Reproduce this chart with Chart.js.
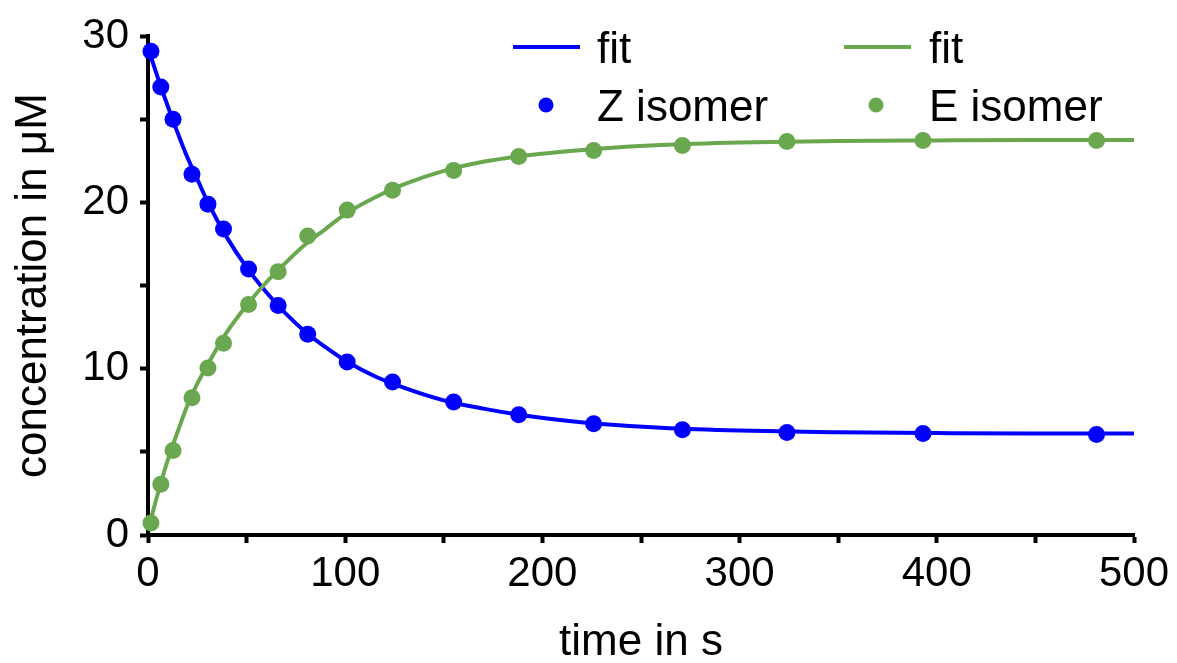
<!DOCTYPE html>
<html>
<head>
<meta charset="utf-8">
<script src="https://cdn.jsdelivr.net/npm/chart.js@4.4.1/dist/chart.umd.min.js"></script>
<style>
  body { margin: 0; background: #fff; }
  #wrap { width: 1177px; height: 663px; }
</style>
</head>
<body>
<div id="wrap"><canvas id="chart-kinetics" width="1177" height="663"></canvas></div>
<script>
// measured points (time in s, concentration in uM)
let timePts = [1.5, 6.5, 12.7, 22.3, 30.4, 38.3, 51, 66, 81, 101, 124, 155, 188, 226, 271, 324, 393, 481];
let zIsomer = [29.1, 26.95, 25.0, 21.7, 19.9, 18.4, 16.0, 13.8, 12.07, 10.4, 9.2, 8.0, 7.23, 6.69, 6.33, 6.16, 6.1, 6.04];
let eIsomer = [0.72, 3.05, 5.08, 8.25, 10.04, 11.53, 13.86, 15.84, 17.99, 19.54, 20.74, 21.93, 22.77, 23.13, 23.43, 23.67, 23.73, 23.73];

// fit curves
let fitTime = [0, 5, 10, 15, 20, 25, 30, 40, 50, 60, 70, 80, 90, 100, 115, 130, 150, 170, 190, 210, 230, 260, 300, 350, 400, 450, 500];
let zFit = [29.3, 27.5, 25.8, 24.2, 22.7, 21.4, 20.1, 17.9, 16.1, 14.6, 13.3, 12.2, 11.3, 10.5, 9.55, 8.85, 8.1, 7.6, 7.2, 6.9, 6.68, 6.45, 6.28, 6.18, 6.13, 6.1, 6.1];
let eFit = [0.3, 2.5, 4.5, 6.2, 7.8, 9.1, 10.2, 12.2, 13.8, 15.2, 16.4, 17.5, 18.4, 19.3, 20.3, 21.1, 21.9, 22.45, 22.8, 23.05, 23.25, 23.45, 23.6, 23.7, 23.73, 23.75, 23.75];

let xTicks = [0, 100, 200, 300, 400, 500];
let yTicks = [0, 10, 20, 30];

const BLUE = "#0000ff";
const GREEN = "#6aa84f";
const FONT = "'Liberation Sans', Arial, sans-serif";

function pairs(xs, ys) {
  return xs.map(function(x, i) { return {x: x, y: ys[i]}; });
}

// two-column legend like the original figure
const legendPlugin = {
  id: "figLegend",
  afterDraw: function(chart) {
    const ctx = chart.ctx;
    ctx.save();
    ctx.font = "44px " + FONT;
    ctx.fillStyle = "#000";
    ctx.textAlign = "left";
    ctx.textBaseline = "alphabetic";

    const cols = [
      {lineX: 513, textX: 597, dotX: 546, color: BLUE, name: "Z isomer"},
      {lineX: 844, textX: 929, dotX: 876, color: GREEN, name: "E isomer"}
    ];
    cols.forEach(function(c) {
      ctx.strokeStyle = c.color;
      ctx.lineWidth = 4;
      ctx.beginPath();
      ctx.moveTo(c.lineX, 47);
      ctx.lineTo(c.lineX + 67, 47);
      ctx.stroke();
      ctx.fillText("fit", c.textX, 63);

      ctx.fillStyle = c.color;
      ctx.beginPath();
      ctx.arc(c.dotX, 105, 7.5, 0, Math.PI * 2);
      ctx.fill();
      ctx.fillStyle = "#000";
      ctx.fillText(c.name, c.textX, 121);
    });
    ctx.restore();
  }
};

let ctx = document.getElementById("chart-kinetics");
let myChart = new Chart(ctx, {
  type: "line",
  data: {
    datasets: [
      {label: "fit", data: pairs(fitTime, eFit), borderColor: GREEN, borderWidth: 4,
       pointRadius: 0, cubicInterpolationMode: "monotone", clip: false},
      {label: "fit", data: pairs(fitTime, zFit), borderColor: BLUE, borderWidth: 4,
       pointRadius: 0, cubicInterpolationMode: "monotone", clip: false},
      {label: "E isomer", data: pairs(timePts, eIsomer), showLine: false,
       pointRadius: 8.5, pointBackgroundColor: GREEN, pointBorderWidth: 0, borderColor: GREEN, clip: false},
      {label: "Z isomer", data: pairs(timePts, zIsomer), showLine: false,
       pointRadius: 8.5, pointBackgroundColor: BLUE, pointBorderWidth: 0, borderColor: BLUE, clip: false}
    ]
  },
  options: {
    responsive: false,
    animation: false,
    devicePixelRatio: 1,
    layout: {padding: {top: 33, right: 43, left: 0, bottom: 0}},
    plugins: {legend: {display: false}, tooltip: {enabled: false}},
    scales: {
      x: {
        type: "linear", min: 0, max: 500,
        afterFit: function(s) { s.height = 128; },
        border: {display: true, color: "#000", width: 4},
        grid: {drawOnChartArea: false, drawTicks: true, tickLength: 8, tickWidth: 4, tickColor: "#000"},
        ticks: {
          stepSize: 50, padding: 6, color: "#000", maxRotation: 0, autoSkip: false,
          font: {family: FONT, size: 42},
          callback: function(v) { return xTicks.indexOf(v) >= 0 ? String(v) : ""; }
        },
        title: {display: true, text: "time in s", color: "#000",
                font: {family: FONT, size: 44, lineHeight: 0.9}, padding: 0}
      },
      y: {
        min: 0, max: 30,
        afterFit: function(s) { s.width = 148; },
        border: {display: true, color: "#000", width: 4},
        grid: {drawOnChartArea: false, drawTicks: true, tickLength: 8, tickWidth: 4, tickColor: "#000"},
        ticks: {
          stepSize: 5, padding: 11, color: "#000", autoSkip: false,
          font: {family: FONT, size: 42},
          callback: function(v) { return yTicks.indexOf(v) >= 0 ? String(v) : ""; }
        },
        title: {display: true, text: "concentration in μM", color: "#000",
                font: {family: FONT, size: 44, lineHeight: 1.2}, padding: {top: 7, bottom: 0}}
      }
    }
  },
  plugins: [legendPlugin]
});
</script>
</body>
</html>
